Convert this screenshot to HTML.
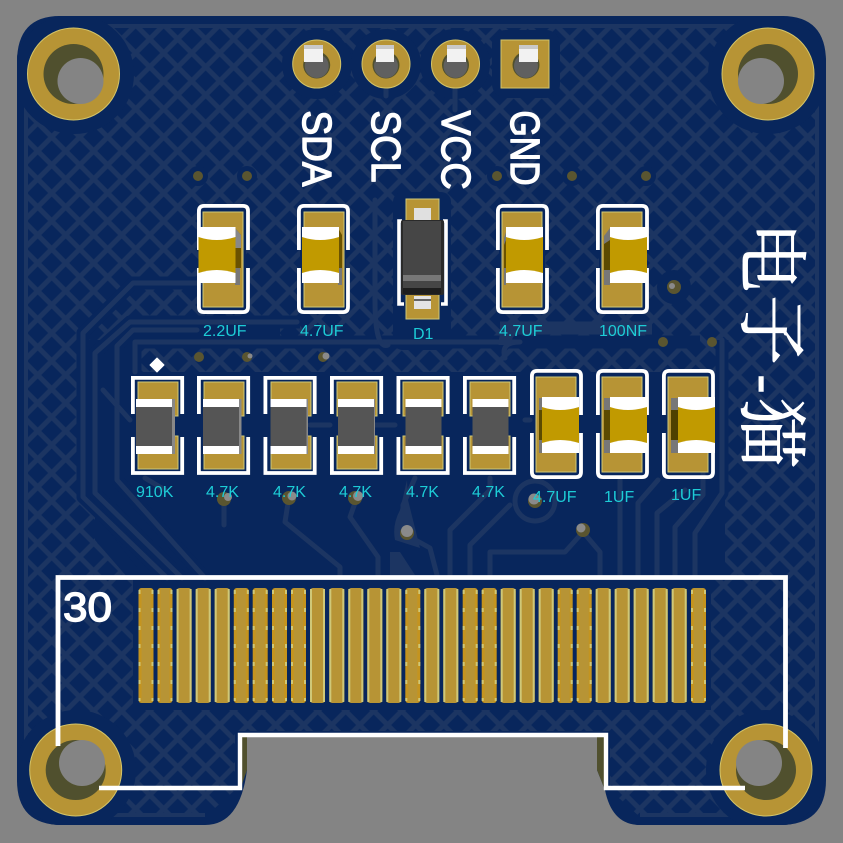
<!DOCTYPE html>
<html><head><meta charset="utf-8"><style>
html,body{margin:0;padding:0;background:#848484}
svg{display:block}
.l{font-family:"Liberation Sans",sans-serif;font-size:16px;fill:#1dccd6}
.s{font-family:"Liberation Sans",sans-serif;font-size:41px;fill:#fff;stroke:#fff;stroke-width:1.4;stroke-linejoin:round}
.c{font-family:"Liberation Serif","Noto Serif CJK SC",serif;font-size:70px;fill:#fff;stroke:#fff;stroke-width:.9}
</style></head><body>
<svg width="843" height="843" viewBox="0 0 843 843" xmlns="http://www.w3.org/2000/svg">
<defs>
<pattern id="h" patternUnits="userSpaceOnUse" width="28" height="28" patternTransform="translate(9.7 11)">
<path d="M-7,7 L7,-7 M0,28 L28,0 M21,35 L35,21 M-7,21 L7,35 M0,0 L28,28 M21,-7 L35,7" stroke="#1c3562" stroke-width="5" fill="none"/>
</pattern>
<clipPath id="board"><path d="M60,16 H782 Q826,16 826,62 V780 Q826,825 780,825 H640 Q612,825 605,790 L597,770 V737 H247 V770 Q240,825 205,825 H62 Q17,825 17,780 V62 Q17,16 60,16 Z"/></clipPath>
<clipPath id="pour"><path d="M62,24 H782 Q819,24 819,62 V780 Q819,817 780,817 H640 L610,790 V731 H235 V790 L205,817 H62 Q24,817 24,780 V62 Q24,24 62,24 Z"/></clipPath>
<g id="f"><rect width="15" height="115" rx="3" fill="#b79435"/><rect x="0" y="1" width="2" height="113" fill="#cfc878"/><rect x="13" y="1" width="2" height="113" fill="#cfc878"/></g>
<g id="o"><rect width="15" height="115" rx="3" fill="#c4941f"/><rect x="3" y="0" width="9" height="115" fill="#b79435"/><path d="M1,2 V113 M14,2 V113" stroke="#cfc878" stroke-width="2" stroke-dasharray="4 14" fill="none"/></g>
<g id="capsilk" fill="none" stroke="#fff" stroke-width="3.8">
<path d="M1.9,46 V7 Q1.9,1.9 7,1.9 H46 Q51,1.9 51,7 V46"/>
<path d="M1.9,64 V103 Q1.9,108.1 7,108.1 H46 Q51,108.1 51,103 V64"/>
</g>
<g id="ressilk" fill="none" stroke="#fff" stroke-width="3.8">
<path d="M1.9,38 V1.9 H51.2 V38"/>
<path d="M1.9,61 V97 H51.2 V61"/>
</g>
<g id="pad40t"><rect width="40" height="95" fill="#b79435" stroke="#cfc878" stroke-width="1"/></g>
<g id="pad40r"><rect y="0" width="40" height="34" fill="#b79435" stroke="#cfc878" stroke-width="1"/><rect y="54" width="40" height="33" fill="#b79435" stroke="#cfc878" stroke-width="1"/></g>
<g id="capb">
<rect x="0" y="8" width="37" height="42" fill="#c19a00"/>
<path d="M0,0 H37 V10 Q18,16 0,10 Z" fill="#fff"/>
<path d="M0,46 Q18,40 37,46 V56 H0 Z" fill="#fff"/>
</g>
<g id="resb">
<rect width="36" height="55" fill="#555"/>
<rect width="36" height="8" fill="#fff"/>
<rect y="47" width="36" height="8" fill="#fff"/>
</g>
<g id="hdr"><circle r="13.5" cy="1" fill="#50502e"/><circle cx="0" cy="2" r="12" fill="#606060"/></g>
</defs>

<rect width="843" height="843" fill="#848484"/>

<!-- board -->
<path d="M60,16 H782 Q826,16 826,62 V780 Q826,825 780,825 H640 Q612,825 605,790 L597,770 V737 H247 V770 Q240,825 205,825 H62 Q17,825 17,780 V62 Q17,16 60,16 Z" fill="#08265c"/>
<path d="M597,737 H605 V790 L597,770 Z M240,737 H247 V770 L240,790 Z" fill="#50502e"/>

<!-- copper hatch -->
<g clip-path="url(#pour)">
<rect width="843" height="843" fill="url(#h)"/>
<path d="M62,24 H782 Q819,24 819,62 V780 Q819,817 780,817 H640 M205,817 H62 Q24,817 24,780 V62 Q24,24 62,24" fill="none" stroke="#1c3562" stroke-width="8"/>
</g>

<!-- clearances -->
<g fill="#08265c" clip-path="url(#board)">
<circle cx="74" cy="74" r="60"/><circle cx="768" cy="74" r="60"/>
<circle cx="76" cy="770" r="60"/><circle cx="766" cy="770" r="60"/>
<circle cx="317" cy="64" r="35"/><circle cx="386" cy="64" r="35"/><circle cx="455" cy="64" r="35"/>
<rect x="492" y="30" width="68" height="68" rx="14"/>
<rect x="100" y="372" width="620" height="105"/>
<path d="M95,477 H725 V578 H128 L95,540 Z"/>
<path d="M89,340 H130 V578 H145 L89,505 Z"/>
<rect x="393" y="192" width="58" height="158" rx="10"/>
<rect x="200" y="208" width="46" height="104" rx="5"/>
<rect x="300" y="208" width="46" height="104" rx="5"/>
<rect x="499" y="208" width="46" height="104" rx="5"/>
<rect x="599" y="208" width="46" height="104" rx="5"/>
<rect x="133" y="576" width="578" height="134"/>
<circle cx="674" cy="287" r="17"/><circle cx="198" cy="176" r="10"/><circle cx="247" cy="176" r="10"/>
<circle cx="497" cy="176" r="10"/><circle cx="572" cy="176" r="10"/><circle cx="646" cy="176" r="10"/>
</g>

<!-- traces -->
<g fill="none" stroke="#08265c" stroke-width="13" stroke-linejoin="round">
<path d="M200,283 H133 L83,333 V497 L167,578"/>
<path d="M300,322 H130 L95,353 V493 L182,578"/>
<path d="M280,330 H133 L117,346 V480 L205,578"/>
<path d="M700,342 H135 V376"/>
<path d="M722,340 V493 L695,533 V578"/>
</g>
<g fill="none" stroke="#1c3562" stroke-width="5" stroke-linejoin="round" stroke-linecap="round">
<path d="M200,283 H133 L83,333 V497 L167,578"/>
<path d="M297,322 H130 L95,353 V493 L182,578"/>
<path d="M197,330 H133 L117,346 V480 L205,578"/>
<path d="M135,372 V342 H520 Q500,342 505,358"/>
<path d="M722,340 V493 L695,533 V575"/>
<path d="M703,472 V495 L675,527 V575"/>
<path d="M685,490 L657,513 V575"/>
<path d="M658,480 L638,503 V575"/>
<path d="M620,480 V575"/>
<path d="M288,503 L285,522 L340,567 V575"/>
<path d="M355,503 L350,517 L378,557 V575"/>
<path d="M415,478 L403,505 V533 L430,548 L437,575"/>
<path d="M450,575 V530 L490,490 V478"/>
<path d="M470,575 V545 L510,505"/>
<circle cx="535" cy="501" r="20"/>
<path d="M583,532 L600,552 V575 M583,532 L565,552 H490 V575"/>
<path d="M224,503 V525 M145,478 L165,490"/>
<path d="M530,420 H525 M310,425 H330 M375,425 H395"/>
<path d="M103,390 L130,420"/>
<path d="M388,345 Q375,350 375,300 V200"/>
<path d="M455,90 V110 M386,90 V96"/>
</g>
<path d="M390,552 H400 L415,575 H390 Z" fill="#1c3562"/>
<path d="M500,328 H652 M505,345 Q505,328 520,328" fill="none" stroke="#1c3562" stroke-width="13"/>
<path d="M407,480 L400,510 Q392,525 395,540 L420,548 L408,500 Z" fill="#1c3562"/>

<!-- fingers -->
<g>
<use href="#o" x="138.5" y="588"/><use href="#o" x="157.5" y="588"/><use href="#f" x="176.6" y="588"/><use href="#f" x="195.7" y="588"/><use href="#f" x="214.7" y="588"/><use href="#o" x="233.8" y="588"/>
<use href="#o" x="252.7" y="588"/><use href="#o" x="272" y="588"/><use href="#o" x="291" y="588"/><use href="#f" x="310" y="588"/><use href="#f" x="329.3" y="588"/><use href="#f" x="348.3" y="588"/>
<use href="#f" x="367.3" y="588"/><use href="#f" x="386.3" y="588"/><use href="#o" x="405.3" y="588"/><use href="#f" x="424.3" y="588"/><use href="#f" x="443.3" y="588"/><use href="#o" x="462.7" y="588"/>
<use href="#o" x="481.7" y="588"/><use href="#f" x="500.7" y="588"/><use href="#f" x="519.7" y="588"/><use href="#f" x="538.7" y="588"/><use href="#o" x="557.7" y="588"/><use href="#o" x="576.7" y="588"/>
<use href="#f" x="595.7" y="588"/><use href="#f" x="614.7" y="588"/><use href="#f" x="633.7" y="588"/><use href="#f" x="652.7" y="588"/><use href="#f" x="671.7" y="588"/><use href="#o" x="691" y="588"/>
</g>

<!-- top cap row -->
<use href="#pad40t" x="203" y="212"/><use href="#pad40t" x="304" y="212"/><use href="#pad40t" x="502" y="212"/><use href="#pad40t" x="602" y="212"/>
<use href="#capsilk" x="197" y="204"/><use href="#capsilk" x="297" y="204"/><use href="#capsilk" x="496" y="204"/><use href="#capsilk" x="596" y="204"/>

<path d="M235,228 L241,235 V268 H235 Z" fill="#6a5200"/><path d="M235,228 L241,235 V248 H235 Z" fill="#888"/><rect x="235" y="268" width="5" height="17" fill="#777"/>
<use href="#capb" x="198.5" y="227"/>
<path d="M338,228 L342,235 V268 H338 Z" fill="#6a5200"/><rect x="338" y="268" width="4" height="17" fill="#777"/>
<use href="#capb" x="302" y="227"/>
<path d="M506,232 L504,238 V285 H506 Z" fill="#777"/>
<path d="M506,240 L504,245 V268 H506 Z" fill="#6a5200"/>
<use href="#capb" x="506" y="227"/>
<path d="M610,228 L604,236 V285 H610 Z" fill="#777"/><path d="M610,240 L604,244 V270 H610 Z" fill="#5c4a00"/>
<use href="#capb" x="610" y="227"/>

<!-- D1 -->
<rect x="406" y="199" width="33" height="120" fill="#b79435" stroke="#cfc878" stroke-width="1"/>
<rect x="414" y="208" width="17" height="12" fill="#e0e0e0"/><rect x="414" y="296" width="17" height="13" fill="#e4e4e4"/><rect x="414" y="299" width="17" height="2" fill="#666"/>
<path d="M402,221 H399 V304 H404 M443,221 H446 V304 H441" fill="none" stroke="#fff" stroke-width="3.6"/>
<rect x="401" y="220" width="43" height="75" rx="2" fill="#2a2a2a"/>
<rect x="403" y="221" width="38" height="67" fill="#464646"/>
<rect x="403" y="275" width="38" height="6" fill="#777"/>
<rect x="403" y="288" width="38" height="6" fill="#1e1e1e"/>

<!-- row 2 resistors -->
<use href="#pad40r" x="138" y="382"/><use href="#pad40r" x="204" y="382"/><use href="#pad40r" x="271" y="382"/><use href="#pad40r" x="337" y="382"/><use href="#pad40r" x="403" y="382"/><use href="#pad40r" x="470" y="382"/>
<use href="#ressilk" x="131" y="376"/><use href="#ressilk" x="197" y="376"/><use href="#ressilk" x="263.5" y="376"/><use href="#ressilk" x="330" y="376"/><use href="#ressilk" x="396.5" y="376"/><use href="#ressilk" x="463" y="376"/>
<rect x="172" y="399" width="3" height="55" fill="#888"/><use href="#resb" x="136" y="399"/>
<rect x="239" y="399" width="2.5" height="55" fill="#888"/><use href="#resb" x="203" y="399"/>
<rect x="306" y="399" width="2" height="55" fill="#888"/><use href="#resb" x="270.5" y="399"/>
<rect x="374" y="399" width="1" height="55" fill="#888"/><use href="#resb" x="338" y="399"/>
<use href="#resb" x="405.5" y="399"/>
<use href="#resb" x="472.5" y="399"/>

<!-- row 2 caps -->
<use href="#pad40t" x="536" y="377"/><use href="#pad40t" x="602" y="377"/><use href="#pad40t" x="668" y="377"/>
<use href="#capsilk" x="530" y="369"/><use href="#capsilk" x="596" y="369"/><use href="#capsilk" x="662" y="369"/>
<rect x="539" y="398" width="3" height="55" fill="#777"/><rect x="539" y="410" width="3" height="30" fill="#5c4a00"/>
<use href="#capb" x="542" y="397"/>
<rect x="604" y="398" width="6" height="55" fill="#777"/><rect x="604" y="410" width="6" height="30" fill="#5c4a00"/>
<use href="#capb" x="610" y="397"/>
<rect x="671" y="398" width="7" height="55" fill="#777"/><rect x="671" y="410" width="7" height="30" fill="#4f4000"/>
<use href="#capb" x="678" y="397"/>

<!-- vias -->
<g fill="#5a5530">
<circle cx="198" cy="176" r="5"/><circle cx="247" cy="176" r="5"/><circle cx="497" cy="176" r="5"/><circle cx="572" cy="176" r="5"/><circle cx="646" cy="176" r="5"/>
<circle cx="663" cy="342" r="5"/><circle cx="712" cy="342" r="5"/>
<circle cx="199" cy="357" r="5"/><circle cx="247" cy="357" r="5"/><circle cx="323" cy="357" r="5"/>
<circle cx="674" cy="287" r="7"/>
<circle cx="224" cy="499" r="7"/><circle cx="289" cy="498" r="7"/><circle cx="355" cy="498" r="7"/><circle cx="407" cy="533" r="7"/><circle cx="535" cy="501" r="7"/><circle cx="583" cy="530" r="7"/>
</g>
<g fill="#8a8a8a">
<circle cx="228" cy="497" r="4"/><circle cx="292" cy="496" r="4.5"/><circle cx="358" cy="496" r="5"/><circle cx="407" cy="531" r="6"/><circle cx="534" cy="499" r="5.5"/><circle cx="581" cy="528" r="4.5"/><circle cx="250" cy="356" r="2.5"/><circle cx="326" cy="356" r="3.5"/><circle cx="672" cy="286" r="3"/>
</g>
<path d="M157,358 L164,365 L157,372 L150,365 Z" fill="#fff" stroke="#fff" stroke-width="1" stroke-linejoin="round"/>

<!-- headers -->
<g fill="#b79435" stroke="#d4c468" stroke-width="1">
<circle cx="316.7" cy="64" r="24"/><circle cx="386" cy="64" r="24"/><circle cx="455.5" cy="64" r="24"/>
<rect x="501" y="40" width="48" height="48"/>
</g>
<use href="#hdr" x="316.7" y="64"/><use href="#hdr" x="386" y="64"/><use href="#hdr" x="455.5" y="64"/><use href="#hdr" x="526" y="64"/>
<g fill="#f2f2f2">
<rect x="304" y="45" width="19" height="17"/><rect x="376" y="45" width="18" height="17"/><rect x="447" y="45" width="19" height="17"/><rect x="519" y="45" width="19" height="17"/>
</g>
<g fill="#c9c9c9">
<rect x="304" y="45" width="19" height="4"/><rect x="376" y="45" width="18" height="4"/><rect x="447" y="45" width="19" height="4"/><rect x="519" y="45" width="19" height="4"/>
</g>

<!-- mounting holes -->
<g stroke="#d4c468" stroke-width="1" fill="#b79435">
<circle cx="73.5" cy="74" r="46"/><circle cx="768" cy="74" r="46"/><circle cx="75.7" cy="770" r="46"/><circle cx="766" cy="770" r="46"/>
</g>
<g fill="#50502e">
<circle cx="73.5" cy="74" r="30"/><circle cx="768" cy="74" r="30"/><circle cx="75.7" cy="770" r="30"/><circle cx="766" cy="770" r="30"/>
</g>
<g fill="#848484">
<circle cx="80.5" cy="81" r="23"/><circle cx="761" cy="81" r="23"/><circle cx="82" cy="763" r="23"/><circle cx="759" cy="763" r="23"/>
</g>

<!-- silk frame -->
<g fill="none" stroke="#fff" stroke-width="4.8">
<path d="M58,746 V577.5 H785.5 V748"/>
<path d="M99,788 H240 V735 H606 V788 H745" stroke-width="4.4"/>
</g>

<!-- silk text -->
<text class="s" x="63" y="621" textLength="49" lengthAdjust="spacingAndGlyphs">30</text>
<text class="s" transform="translate(303,110.5) rotate(90)" textLength="76" lengthAdjust="spacingAndGlyphs">SDA</text>
<text class="s" transform="translate(372,110.5) rotate(90)" textLength="72" lengthAdjust="spacingAndGlyphs">SCL</text>
<text class="s" transform="translate(442,110.5) rotate(90)" textLength="79" lengthAdjust="spacingAndGlyphs">VCC</text>
<text class="s" transform="translate(511,110.5) rotate(90)" textLength="75" lengthAdjust="spacingAndGlyphs">GND</text>

<text class="c" text-anchor="middle" transform="translate(747,257) rotate(90)">电</text>
<text class="c" text-anchor="middle" transform="translate(747,330) rotate(90)">子</text>
<text class="c" text-anchor="middle" style="font-size:56px" transform="translate(748,384) rotate(90)">-</text>
<text class="c" text-anchor="middle" transform="translate(747,433) rotate(90)">猫</text>

<!-- labels -->
<text class="l" x="203" y="336">2.2UF</text>
<text class="l" x="300" y="336">4.7UF</text>
<text class="l" x="413" y="339">D1</text>
<text class="l" x="499" y="336">4.7UF</text>
<text class="l" x="599" y="336">100NF</text>
<text class="l" x="136" y="497">910K</text>
<text class="l" x="206" y="497">4.7K</text>
<text class="l" x="273" y="497">4.7K</text>
<text class="l" x="339" y="497">4.7K</text>
<text class="l" x="406" y="497">4.7K</text>
<text class="l" x="472" y="497">4.7K</text>
<text class="l" x="533" y="502">4.7UF</text>
<text class="l" x="604" y="502">1UF</text>
<text class="l" x="671" y="500">1UF</text>
</svg>
</body></html>
